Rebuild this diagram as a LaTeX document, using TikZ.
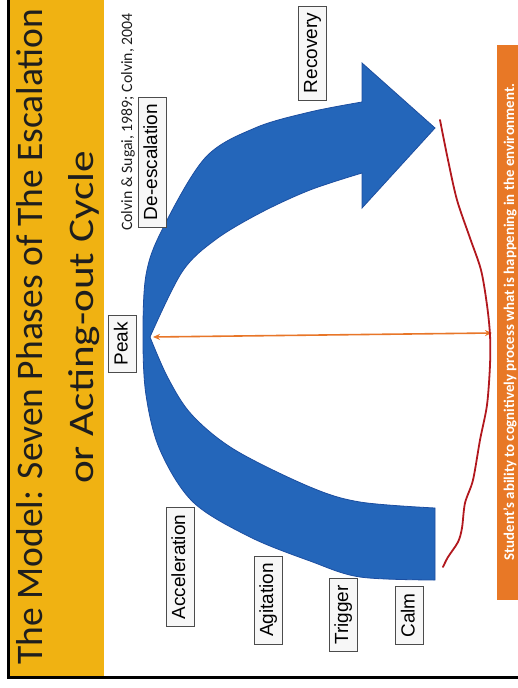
\documentclass[tikz,border=0pt]{standalone}
\usepackage{fontspec}
\setmainfont{Carlito}
\newfontfamily\arialf{Liberation Sans}
\usetikzlibrary{arrows.meta}
\definecolor{gold}{RGB}{240,178,18}
\definecolor{bandblue}{RGB}{36,102,186}
\definecolor{bandedge}{RGB}{28,78,160}
\definecolor{arrorange}{RGB}{232,118,40}
\definecolor{barorange}{RGB}{232,120,38}
\definecolor{redline}{RGB}{178,24,30}
\definecolor{titlegray}{RGB}{30,30,30}
\begin{document}
\begin{tikzpicture}[x=1pt,y=-1pt,
  phase/.style={draw=gray!60!black, fill=gray!6, line width=0.7pt, rotate=90,
    font=\arialf\fontsize{19}{19}\selectfont, inner xsep=7pt, inner ysep=5pt,
    text height=14pt, text depth=4pt},
  titletext/.style={rotate=90, anchor=base, text=titlegray},
]
\useasboundingbox (0,0) rectangle (518,688);
\fill[white] (0,0) rectangle (518,688);
% banner
\fill[gold] (8,0) rectangle (104,677);
\draw[line width=3pt, black] (8,0) -- (8,677) -- (518,677);
\node[titletext, font=\fontsize{37.5}{37.5}\selectfont] (t1) at (42.5,336.5) {The Model: Seven Phases of The Escalation};
\node[titletext, font=\fontsize{36}{36}\selectfont] (t2) at (93,317.5) {\scalebox{1.2}[1]{or Acting-out Cycle}};
\node[rotate=90, anchor=base, font=\fontsize{15.8}{15.8}\selectfont, text=titlegray] (ref) at (132,122) {Colvin \& Sugai, 1989; Colvin, 2004};
% blue band arrow
\fill[bandblue, draw=bandedge, line width=0.8pt]
 plot[smooth, tension=0.55] coordinates {(435,580) (360,577) (310,561) (250,537) (193,502) (160,450) (146,395) (143,337) (146,275) (162,230) (205,158) (255,128) (310,112) (362,102)}
 -- (362,63) -- (435,128) -- (362,208) -- (362,173)
 -- plot[smooth, tension=0.55] coordinates {(362,173) (310,190) (260,213) (215,240) (182,272) (150,337)}
 -- plot[smooth, tension=0.55] coordinates {(150,337) (168,378) (192,415) (235,450) (310,487) (360,502) (435,508)}
 -- cycle;
% orange double arrow
\coordinate (peakpt) at (153,337);
\coordinate (envpt) at (492,333);
\draw[arrorange, line width=1.6pt, {Stealth[length=7pt,width=6pt]}-{Stealth[length=7pt,width=6pt]}] (peakpt) -- (envpt);
% red line
\draw[redline, line width=1.8pt, line cap=round] plot[smooth, tension=0.5] coordinates {(440,120) (448,160) (457,200) (470,238) (481,270) (487,305) (490,335) (490,365) (487,405) (480,440) (473,480) (465,503) (462,528) (458,542) (448,557) (443,567)};
% orange bar
\fill[barorange] (497,45) rectangle (520,600);
\node[rotate=90, text=white, font=\bfseries\fontsize{14.8}{14.8}\selectfont] (envtext) at (510,322) {Student’s ability to cognitively process what is happening in the environment.};
% phase labels
\node[phase] (peak) at (122.5,344) {Peak};
\node[phase] (deesc) at (152,162) {De-escalation};
\node[phase] (recov) at (312,53) {Recovery};
\node[phase] (accel) at (180,567) {Acceleration};
\node[phase] (agit) at (268,600) {Agitation};
\node[phase] (trig) at (343,615) {Trigger};
\node[phase] (calm) at (409.5,615.5) {Calm};
\end{tikzpicture}
\end{document}
